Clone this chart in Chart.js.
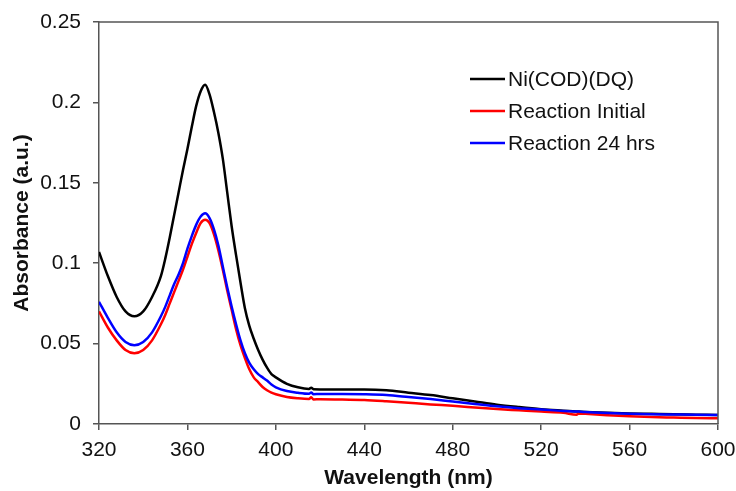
<!DOCTYPE html>
<html>
<head>
<meta charset="utf-8">
<style>
  html, body { margin: 0; padding: 0; background: #fff; }
  #wrap { width: 736px; height: 491px; }
</style>
</head>
<body>
<div id="wrap"><canvas id="uvChart"></canvas></div>

<script src="https://cdn.jsdelivr.net/npm/chart.js"></script>
<script>
// Wavelength (nm) sample points
const wavelengths = [
    320, 324, 328, 332, 336, 340, 344,
    348, 350, 352, 354, 356, 358, 360, 362, 364, 366, 368, 370, 372, 374, 376, 378, 380,
    382, 384, 386, 388, 390, 392, 394, 396, 398, 400,
    405, 410, 415, 416, 417, 420, 430, 440, 450, 460, 470, 480, 490, 500, 510, 520, 530, 536, 537,
    540, 550, 560, 570, 580, 590, 600
];

// Absorbance (a.u.)
const niCodDq = [
    0.107, 0.092, 0.079, 0.070, 0.067, 0.070, 0.079,
    0.092, 0.103, 0.116, 0.130, 0.144, 0.158, 0.171, 0.185, 0.198, 0.207, 0.211, 0.205, 0.194, 0.181, 0.165, 0.144, 0.123,
    0.105, 0.088, 0.072, 0.061, 0.053, 0.046, 0.040, 0.035, 0.031, 0.029,
    0.025, 0.0228, 0.0218, 0.0226, 0.0216, 0.0215, 0.0215, 0.0215, 0.021, 0.0195, 0.018, 0.016, 0.014, 0.012, 0.0105, 0.0092, 0.0083, 0.0078, 0.0077,
    0.0075, 0.0070, 0.0066, 0.0063, 0.0060, 0.0058, 0.0056
];
const reactionInitial = [
    0.070, 0.060, 0.052, 0.046, 0.044, 0.046, 0.052,
    0.062, 0.068, 0.075, 0.082, 0.089, 0.096, 0.104, 0.112, 0.119, 0.125, 0.127, 0.125, 0.118, 0.108, 0.096, 0.083, 0.071,
    0.059, 0.049, 0.041, 0.034, 0.029, 0.026, 0.023, 0.021, 0.0195, 0.0185,
    0.0168, 0.016, 0.0156, 0.0166, 0.0153, 0.0154, 0.0152, 0.0150, 0.0142, 0.0132, 0.0122, 0.0113, 0.0103, 0.0093, 0.0085, 0.0077, 0.0070, 0.0058, 0.0066,
    0.0063, 0.0055, 0.0048, 0.0043, 0.0040, 0.0037, 0.0035
];
const reaction24h = [
    0.076, 0.066, 0.057, 0.051, 0.049, 0.051, 0.057,
    0.067, 0.073, 0.080, 0.087, 0.093, 0.100, 0.109, 0.117, 0.124, 0.129, 0.131, 0.128, 0.121, 0.111, 0.098, 0.085, 0.073,
    0.062, 0.052, 0.044, 0.038, 0.034, 0.031, 0.029, 0.027, 0.0245, 0.0228,
    0.0205, 0.0194, 0.0188, 0.0196, 0.0185, 0.0187, 0.0187, 0.0185, 0.018, 0.0168, 0.0155, 0.014, 0.0125, 0.011, 0.0098, 0.009, 0.0081, 0.0078, 0.0077,
    0.0074, 0.0068, 0.0064, 0.0061, 0.0059, 0.0057, 0.0056
];

const seriesNames = ['Ni(COD)(DQ)', 'Reaction Initial', 'Reaction 24 hrs'];
const seriesColors = ['#000000', '#ff0000', '#0000ff'];

const xTicks = [320, 360, 400, 440, 480, 520, 560, 600];
const yTickLabels = ['0', '0.05', '0.1', '0.15', '0.2', '0.25'];

const FONT = '"Liberation Sans", Arial, sans-serif';
const AXIS_COLOR = '#555';

function toPoints(values) {
    return wavelengths.map((w, i) => ({ x: w, y: values[i] }));
}

const allSeries = [niCodDq, reactionInitial, reaction24h];

// Frame round the plot area plus the legend drawn inside it
const framePlugin = {
    id: 'frame',
    afterDraw(chart) {
        const { ctx, chartArea } = chart;
        ctx.save();
        ctx.strokeStyle = AXIS_COLOR;
        ctx.lineWidth = 1.5;
        ctx.beginPath();
        ctx.moveTo(chartArea.left, chartArea.top);
        ctx.lineTo(chartArea.right, chartArea.top);
        ctx.lineTo(chartArea.right, chartArea.bottom);
        ctx.stroke();

        // legend
        ctx.font = '21px ' + FONT;
        ctx.textBaseline = 'middle';
        const rows = [79, 111, 143];
        seriesNames.forEach((name, i) => {
            ctx.strokeStyle = seriesColors[i];
            ctx.lineWidth = 2.5;
            ctx.beginPath();
            ctx.moveTo(470, rows[i]);
            ctx.lineTo(505, rows[i]);
            ctx.stroke();
            ctx.fillStyle = '#111';
            ctx.fillText(name, 508, rows[i] + 1);
        });
        ctx.restore();
    }
};

const ctx = document.getElementById('uvChart').getContext('2d');
const chart = new Chart(ctx, {
    type: 'line',
    data: {
        datasets: allSeries.map((vals, i) => ({
            label: seriesNames[i],
            data: toPoints(vals),
            borderColor: seriesColors[i],
            borderWidth: 2.5,
            pointRadius: 0,
            fill: false,
            cubicInterpolationMode: 'monotone'
        })).reverse()
    },
    options: {
        responsive: true,
        maintainAspectRatio: false,
        animation: false,
        layout: {
            padding: { top: 22, right: 18, left: 10, bottom: 0 }
        },
        plugins: {
            legend: { display: false },
            tooltip: { enabled: false }
        },
        scales: {
            x: {
                type: 'linear',
                min: 320,
                max: 600,
                afterBuildTicks(scale) {
                    scale.ticks = xTicks.map(v => ({ value: v }));
                },
                afterFit(scale) {
                    scale.height = 491 - 424;
                    scale.paddingLeft = 0;
                    scale.paddingRight = 0;
                },
                grid: {
                    drawOnChartArea: false,
                    drawTicks: true,
                    tickLength: 6,
                    color: AXIS_COLOR,
                    lineWidth: 1.5
                },
                border: { display: true, color: AXIS_COLOR, width: 1.5 },
                ticks: {
                    color: '#111',
                    padding: 8,
                    maxRotation: 0,
                    font: { family: FONT, size: 21 }
                },
                title: {
                    display: true,
                    text: 'Wavelength (nm)',
                    color: '#111',
                    padding: { top: 0, bottom: 0 },
                    font: { family: FONT, size: 21, weight: 'bold' }
                }
            },
            y: {
                min: 0,
                max: 0.25,
                ticks: {
                    stepSize: 0.05,
                    color: '#111',
                    padding: 12,
                    font: { family: FONT, size: 21 },
                    callback: (value, index) => yTickLabels[index]
                },
                afterFit(scale) {
                    scale.width = 99 - 10;
                    scale.paddingTop = 0;
                    scale.paddingBottom = 0;
                },
                grid: {
                    drawOnChartArea: false,
                    drawTicks: true,
                    tickLength: 6,
                    color: AXIS_COLOR,
                    lineWidth: 1.5
                },
                border: { display: true, color: AXIS_COLOR, width: 1.5 },
                title: {
                    display: true,
                    text: 'Absorbance (a.u.)',
                    color: '#111',
                    padding: { top: 0, bottom: 0 },
                    font: { family: FONT, size: 21, weight: 'bold' }
                }
            }
        }
    },
    plugins: [framePlugin]
});
</script>
</body>
</html>
